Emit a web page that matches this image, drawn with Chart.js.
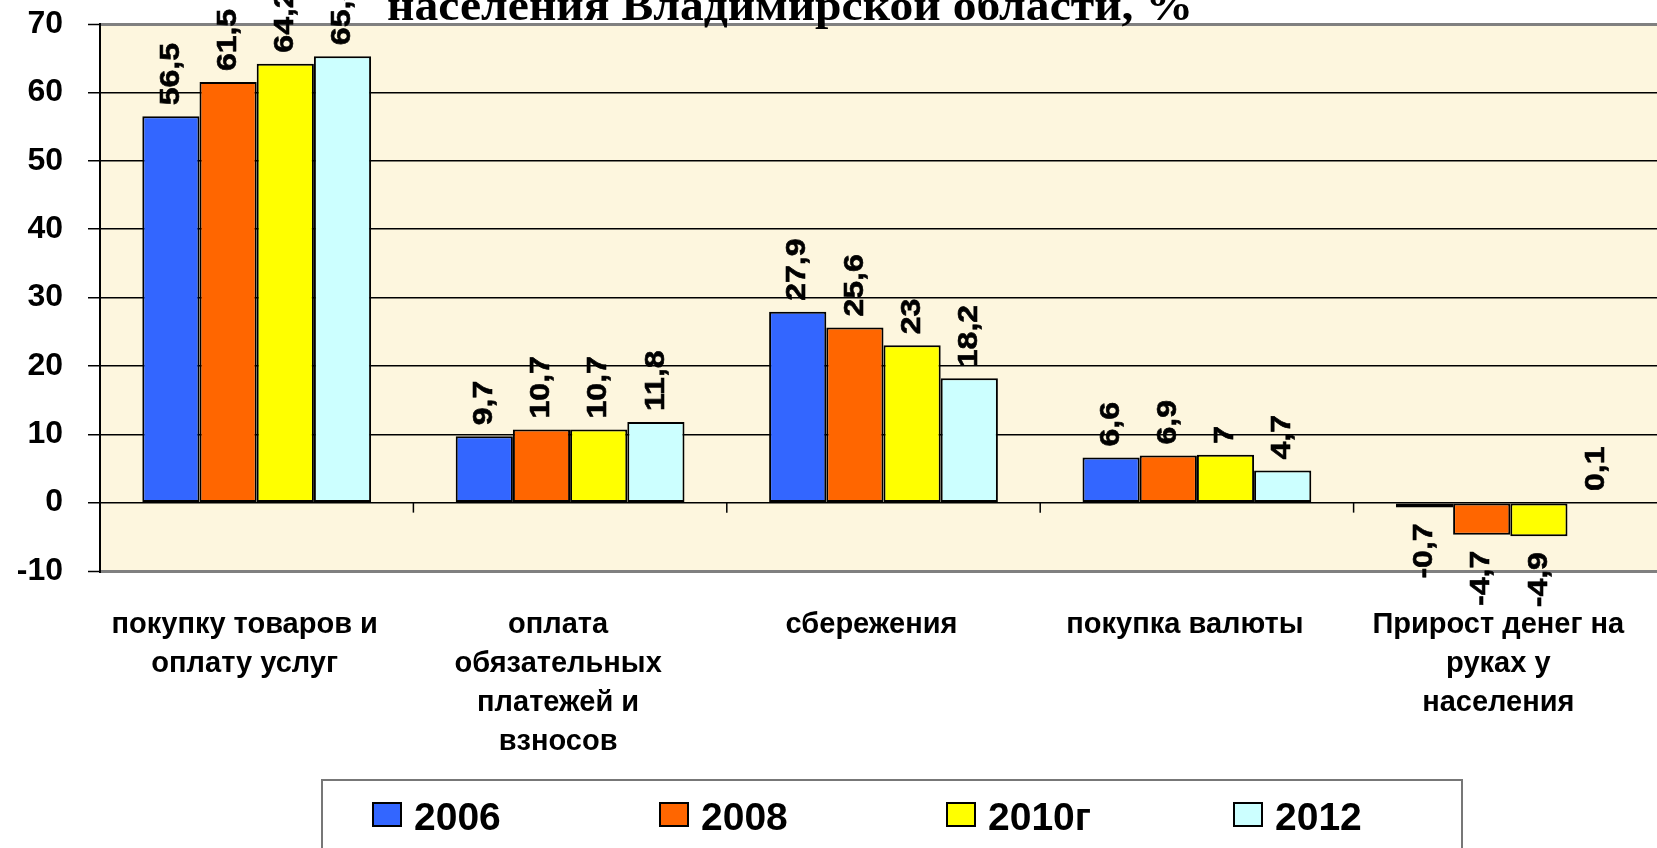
<!DOCTYPE html>
<html>
<head>
<meta charset="utf-8">
<script src="https://cdn.jsdelivr.net/npm/chart.js@4.4.0/dist/chart.umd.min.js"></script>
<style>
    html, body { margin: 0 ; padding: 0 ; background: #ffffff ; overflow: hidden ; }
    #wrap { width: 1657px ; height: 848px ; overflow: hidden ; }
</style>
</head>
<body>
<div id="wrap"><canvas id="incomeUseChartCanvas" width="1680" height="848"></canvas></div>
<script>
// ---------------- Data -------------------------------------------------------
const CATEGORIES = [
    [ "покупку товаров и", "оплату услуг" ],
    [ "оплата", "обязательных", "платежей и", "взносов" ],
    "сбережения",
    "покупка валюты",
    [ "Прирост денег на", "руках у", "населения" ]
] ;
const SERIES_NAMES = [ "2006", "2008", "2010г", "2012" ] ;
const VALUES_2006  = [ 56.5,  9.7, 27.9, 6.6, -0.7 ] ;
const VALUES_2008  = [ 61.5, 10.7, 25.6, 6.9, -4.7 ] ;
const VALUES_2010  = [ 64.2, 10.7, 23.0, 7.0, -4.9 ] ;
const VALUES_2012  = [ 65.3, 11.8, 18.2, 4.7,  0.1 ] ;
const Y_TICKS      = [ -10, 0, 10, 20, 30, 40, 50, 60, 70 ] ;
const TITLE_TEXT   = "населения Владимирской области, %" ;

// ---------------- Constants --------------------------------------------------
const SERIES_COLORS = [ '#3366FF', '#FF6600', '#FFFF00', '#CCFFFF' ] ;
const PLOT_BG       = '#FDF6DE' ;
const FRAME_GREY    = '#808080' ;
const SANS          = '"Liberation Sans", Arial, sans-serif' ;
const SERIF         = '"Liberation Serif", "Times New Roman", serif' ;

Chart.defaults.font.family = SANS ;
Chart.defaults.color = '#000000' ;

// ---------------- Plugins ----------------------------------------------------
const plotBackground = {
    id : 'plotBackground',
    beforeDraw : function( chart ) {
        const a = chart.chartArea ;
        const ctx = chart.ctx ;
        ctx.save() ;
        ctx.fillStyle = PLOT_BG ;
        ctx.fillRect( a.left, a.top, a.right - a.left, a.bottom - a.top ) ;
        ctx.restore() ;
    }
} ;

// small tick marks on the zero line between the categories
const zeroLineTicks = {
    id : 'zeroLineTicks',
    beforeDatasetsDraw : function( chart ) {
        const xs = chart.scales.x ;
        const y0 = chart.scales.y.getPixelForValue( 0 ) ;
        const ctx = chart.ctx ;
        ctx.save() ;
        ctx.strokeStyle = '#000000' ;
        ctx.lineWidth = 1.5 ;
        for( var i = 1; i < CATEGORIES.length; i++ ) {
            var x = ( xs.getPixelForValue( i - 1 ) + xs.getPixelForValue( i ) ) / 2 ;
            ctx.beginPath() ;
            ctx.moveTo( x, y0 ) ;
            ctx.lineTo( x, y0 + 10 ) ;
            ctx.stroke() ;
        }
        ctx.restore() ;
    }
} ;

// vertical value labels over / under every bar
const barValueLabels = {
    id : 'barValueLabels',
    afterDatasetsDraw : function( chart ) {
        const ctx = chart.ctx ;
        ctx.save() ;
        ctx.font = 'bold 32px ' + SANS ;
        ctx.fillStyle = '#000000' ;
        ctx.strokeStyle = '#000000' ;
        ctx.lineWidth = 0.7 ;
        ctx.textBaseline = 'middle' ;
        chart.data.datasets.forEach( function( ds, di ) {
            const meta = chart.getDatasetMeta( di ) ;
            meta.data.forEach( function( bar, i ) {
                const v = ds.data[i] ;
                const text = ( '' + v ).replace( '.', ',' ) ;
                ctx.save() ;
                if( v >= 0 ) {
                    ctx.translate( bar.x, bar.y - 11 ) ;
                    ctx.textAlign = 'left' ;
                }
                else {
                    ctx.translate( bar.x, bar.y + 16 ) ;
                    ctx.textAlign = 'right' ;
                }
                ctx.rotate( -Math.PI / 2 ) ;
                ctx.scale( 1, 0.88 ) ;
                ctx.fillText( text, 0, 0 ) ;
                ctx.strokeText( text, 0, 0 ) ;
                ctx.restore() ;
            } ) ;
        } ) ;
        ctx.restore() ;
    }
} ;

// title line, squeezed to the width it takes on the slide
const titleText = {
    id : 'titleText',
    afterDraw : function( chart ) {
        const ctx = chart.ctx ;
        const left = 387, width = 806 ;
        ctx.save() ;
        ctx.font = 'bold 44px ' + SERIF ;
        ctx.fillStyle = '#000000' ;
        ctx.textBaseline = 'alphabetic' ;
        ctx.textAlign = 'left' ;
        const w = ctx.measureText( TITLE_TEXT ).width ;
        ctx.translate( left, 20 ) ;
        ctx.scale( width / w, 1 ) ;
        ctx.fillText( TITLE_TEXT, 0, 0 ) ;
        ctx.restore() ;
    }
} ;

// framed legend under the category labels
const legendBox = {
    id : 'legendBox',
    afterDraw : function( chart ) {
        const ctx = chart.ctx ;
        ctx.save() ;
        ctx.fillStyle = '#ffffff' ;
        ctx.fillRect( 322, 780, 1140, 120 ) ;
        ctx.strokeStyle = '#777777' ;
        ctx.lineWidth = 2 ;
        ctx.strokeRect( 322, 780, 1140, 120 ) ;

        ctx.font = 'bold 39px ' + SANS ;
        ctx.textBaseline = 'alphabetic' ;
        ctx.textAlign = 'left' ;
        chart.data.datasets.forEach( function( ds, i ) {
            const x = 373 + i * 287 ;
            ctx.fillStyle = ds.backgroundColor ;
            ctx.fillRect( x, 803, 28, 23 ) ;
            ctx.strokeStyle = '#000000' ;
            ctx.lineWidth = 2 ;
            ctx.strokeRect( x, 803, 28, 23 ) ;
            ctx.fillStyle = '#000000' ;
            ctx.fillText( ds.label, x + 41, 830 ) ;
        } ) ;
        ctx.restore() ;
    }
} ;

// ---------------- Chart ------------------------------------------------------
function makeDataset( idx, values ) {
    return {
        label           : SERIES_NAMES[ idx ],
        data            : values,
        backgroundColor : SERIES_COLORS[ idx ],
        borderColor     : '#000000',
        borderWidth     : 2,
        borderSkipped   : false,
        categoryPercentage : 0.73,
        barPercentage   : 1.0
    } ;
}

function isFrameTick( value ) {
    return value === Y_TICKS[0] || value === Y_TICKS[ Y_TICKS.length - 1 ] ;
}

var canvas = document.getElementById( 'incomeUseChartCanvas' ) ;
var chart = new Chart( canvas, {
    type : 'bar',
    data : {
        labels : CATEGORIES,
        datasets : [
            makeDataset( 0, VALUES_2006 ),
            makeDataset( 1, VALUES_2008 ),
            makeDataset( 2, VALUES_2010 ),
            makeDataset( 3, VALUES_2012 )
        ]
    },
    options : {
        responsive : false,
        animation : false,
        layout : { padding : { top : 24, right : 13, left : 0, bottom : 0 } },
        plugins : {
            legend : { display : false },
            tooltip : { enabled : false },
            title : { display : false }
        },
        scales : {
            x : {
                grid : { display : false },
                border : { display : false },
                ticks : {
                    autoSkip : false,
                    maxRotation : 0,
                    minRotation : 0,
                    padding : 27,
                    labelOffset : -12,
                    font : { size : 29, weight : 'bold', lineHeight : 1.34 }
                },
                afterFit : function( scale ) { scale.height = 277 ; }
            },
            y : {
                min : Y_TICKS[0],
                max : Y_TICKS[ Y_TICKS.length - 1 ],
                ticks : {
                    stepSize : 10,
                    padding : 25,
                    font : { size : 32, weight : 'bold' }
                },
                grid : {
                    color : function( c ) { return isFrameTick( c.tick.value ) ? FRAME_GREY : '#000000' ; },
                    lineWidth : function( c ) { return isFrameTick( c.tick.value ) ? 3 : 1.5 ; },
                    tickColor : '#000000',
                    tickWidth : 1.5,
                    tickLength : 12
                },
                border : { display : true, color : '#000000', width : 2 },
                afterFit : function( scale ) {
                    scale.width = 100 ;
                    scale.paddingTop = 0 ;
                    scale.paddingBottom = 0 ;
                }
            }
        }
    },
    plugins : [ plotBackground, zeroLineTicks, barValueLabels, titleText, legendBox ]
} ) ;
</script>
</body>
</html>
